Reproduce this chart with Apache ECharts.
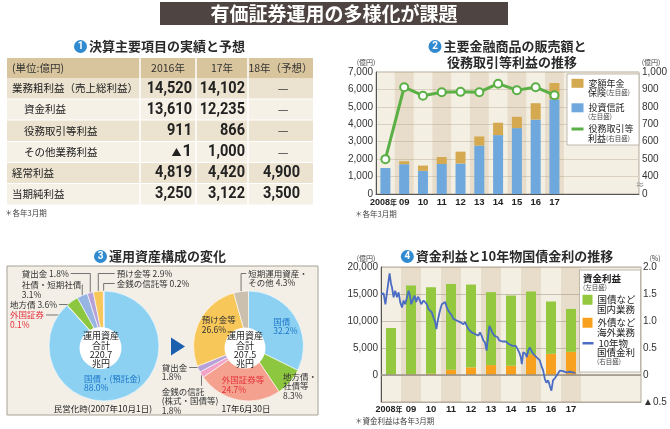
<!DOCTYPE html>
<html lang="ja"><head><meta charset="utf-8">
<title>有価証券運用の多様化が課題</title>
<script src="https://cdn.jsdelivr.net/npm/echarts@6/dist/echarts.min.js"></script>
<style>html,body{margin:0;padding:0;background:#fff;}#chart{width:670px;height:429px;}</style>
</head><body><div id="chart"></div>
<script>
// ---- Panel 1: table ----
const tableHead = ['(単位:億円)', '2016年', '17年', '18年（予想）'];
const tableItems = ['業務粗利益（売上総利益）', '資金利益', '役務取引等利益', 'その他業務利益', '経常利益', '当期純利益'];
const tableIndent = [0, 1, 1, 1, 0, 0];
const fy2016 = ['14,520', '13,610', '911', '▲1', '4,819', '3,250'];
const fy2017 = ['14,102', '12,235', '866', '1,000', '4,420', '3,122'];
const fy2018 = ['—', '—', '—', '—', '4,900', '3,500'];

// ---- Panel 2 ----
const salesYears = ['2008年', '09', '10', '11', '12', '13', '14', '15', '16', '17', ' ', '  ', '   ', '    '];
const investTrust = [1490, 1710, 1330, 1720, 1750, 2780, 3380, 3780, 4270, 5440];
const variableAnnuity = [0, 170, 300, 400, 680, 520, 710, 650, 940, 930];
const feeIncome = [500, 913, 864, 884, 886, 884, 933, 896, 913, 867];
const salesStripe = [0, 1, 0, 1, 0, 1, 0, 1, 0, 1, 0, 0, 0, 0];

// ---- Panel 3 ----
const assetNames2007 = ['国債・(預託金)', '外国証券', '地方債', '社債・短期社債', '貸出金', '預け金等', '金銭の信託等'];
const assetShare2007 = [88.0, 0.1, 3.6, 3.1, 1.8, 2.9, 0.2];
const assetNames2017 = ['国債', '地方債・\n社債等', '外国証券等', '金銭の信託\n(株式・国債等)', '貸出金', '預け金等', '短期運用資産・\nその他'];
const assetShare2017 = [32.2, 8.3, 24.7, 1.8, 1.8, 26.6, 4.3];

// ---- Panel 4 ----
const fundYears = ['2008年', '09', '10', '11', '12', '13', '14', '15', '16', '17', ' ', '  ', '   '];
const overseasBiz = [60, 150, 250, 980, 1410, 1840, 1720, 3830, 3930, 4290];
const domesticBiz = [8650, 16410, 16010, 15890, 15340, 13500, 13000, 11630, 9680, 7945];
const fundStripe = [0, 1, 0, 1, 0, 1, 0, 1, 0, 1, 0, 0, 0];
const jgb10y = [
[0.00,1.50],[0.05,1.47],[0.13,1.51],[0.22,1.31],[0.30,1.53],[0.38,1.75],[0.43,1.88],[0.50,1.69],[0.55,1.62],[0.63,1.44],
[0.71,1.56],[0.80,1.44],[0.88,1.53],[0.96,1.35],[1.05,1.25],[1.13,1.38],[1.21,1.31],[1.30,1.44],[1.38,1.56],[1.45,1.47],
[1.51,1.31],[1.58,1.38],[1.68,1.47],[1.76,1.35],[1.84,1.45],[1.91,1.41],[2.01,1.31],[2.13,1.38],[2.21,1.41],[2.29,1.31],
[2.38,1.22],[2.46,1.25],[2.54,1.16],[2.62,1.07],[2.71,0.98],[2.77,0.85],[2.84,1.01],[2.91,1.13],[2.97,1.22],[3.04,1.31],
[3.12,1.28],[3.21,1.35],[3.29,1.25],[3.37,1.19],[3.46,1.16],[3.54,1.10],[3.62,1.04],[3.70,1.07],[3.79,1.01],[3.87,1.04],
[3.95,0.98],[4.04,1.01],[4.12,0.94],[4.20,0.98],[4.29,0.91],[4.37,0.85],[4.45,0.82],[4.53,0.79],[4.62,0.81],[4.70,0.76],
[4.78,0.77],[4.87,0.73],[4.95,0.79],[5.03,0.73],[5.12,0.64],[5.20,0.60],[5.28,0.45],[5.37,0.76],[5.42,0.91],[5.50,0.85],
[5.56,0.79],[5.66,0.73],[5.75,0.76],[5.83,0.70],[5.91,0.64],[5.98,0.67],[6.06,0.62],[6.16,0.60],[6.23,0.62],[6.33,0.60],
[6.41,0.57],[6.50,0.59],[6.58,0.54],[6.66,0.51],[6.74,0.54],[6.83,0.48],[6.91,0.42],[6.99,0.33],[7.04,0.20],[7.11,0.42],
[7.16,0.45],[7.23,0.39],[7.29,0.33],[7.36,0.45],[7.44,0.51],[7.52,0.45],[7.61,0.39],[7.69,0.36],[7.77,0.33],[7.86,0.30],
[7.94,0.27],[8.02,0.17],[8.11,0.08],[8.19,-0.07],[8.27,-0.14],[8.36,-0.10],[8.44,-0.20],[8.52,-0.29],[8.60,-0.10],[8.69,-0.06],
[8.77,-0.04],[8.85,0.03],[8.94,0.08],[9.02,0.09],[9.10,0.07],[9.19,0.10],[9.27,0.05],[9.35,0.08],[9.44,0.06],[9.52,0.09],
[9.60,0.05],[9.68,0.02],[9.72,0.04]
];

// ---------------- styles / drawing ----------------
const FJP = '"Noto Sans CJK JP", sans-serif';
const FNUM = '"Liberation Sans", Arial, "Noto Sans CJK JP", sans-serif';
const G = [];
function T(x, y, text, st, z) {
  const s = Object.assign({text: text, fill: '#333', fontSize: 10, fontFamily: FJP, align: 'left', verticalAlign: 'middle'}, st || {});
  s.textAlign = s.align; s.textVerticalAlign = s.verticalAlign;
  const el = {type: 'text', x: x, y: y, z: z || 20, silent: true, style: s};
  if (st && st.scaleX) { el.scaleX = st.scaleX; }
  G.push(el);
}
function R(x, y, w, h, fill, stroke, lw, z) {
  G.push({type: 'rect', shape: {x: x, y: y, width: w, height: h}, z: z || 1, silent: true,
    style: {fill: fill, stroke: stroke || null, lineWidth: lw || 0}});
}
function L(x1, y1, x2, y2, stroke, lw, z) {
  G.push({type: 'line', shape: {x1: x1, y1: y1, x2: x2, y2: y2}, z: z || 2, silent: true, style: {stroke: stroke, lineWidth: lw}});
}
const numRich = {fill: '#fff', color: '#fff', backgroundColor: '#2f8ad0', borderRadius: 7, width: 13, height: 13, lineHeight: 13,
  align: 'center', fontSize: 10, fontWeight: 'bold', fontFamily: 'Roboto, sans-serif'};
function PT(x, y, n, t) {
  T(x, y, (n ? '{n|' + n + '}' : '') + '{t|' + t + '}', {align: 'center', rich: {
    n: numRich,
    t: {fill: '#2a2a2a', color: '#2a2a2a', fontSize: 13, fontWeight: 'bold', fontFamily: FJP, padding: [0, 0, 0, 2]}
  }});
}

// main title
R(160, 2, 348, 23, '#4e4441');
T(334, 13.5, '有価証券運用の多様化が課題', {fill: '#fff', fontSize: 19, fontWeight: 'bold', align: 'center'});

// ---- Panel 1 table ----
PT(159.5, 46.5, '1', '決算主要項目の実績と予想');
const colX = [7, 140, 196, 248, 313];
const rowTop = [58, 78, 99, 120, 141.5, 162.5, 183.5, 204.5];
R(7, 58, 306, 20, '#d9c59d');
for (let i = 0; i < tableItems.length; i++) {
  R(7, rowTop[i + 1], 306, rowTop[i + 2] - rowTop[i + 1], i % 2 === 0 ? '#ebe2cf' : '#f6f1e7');
}
for (let i = 2; i < rowTop.length - 1; i++) L(7, rowTop[i], 313, rowTop[i], '#fff', 1, 3);
for (let j = 1; j < 4; j++) L(colX[j], 58, colX[j], 204.5, '#fff', 1.5, 3);
T(12, 68, tableHead[0], {fontSize: 10.5, fill: '#333'});
T(168, 68, tableHead[1], {fontSize: 10.5, fill: '#333', align: 'center'});
T(222, 68, tableHead[2], {fontSize: 10.5, fill: '#333', align: 'center'});
T(280.5, 68, tableHead[3], {fontSize: 10.5, fill: '#333', align: 'center'});
const numStyle = {fontSize: 16.5, fontWeight: 'bold', fontFamily: 'Roboto, sans-serif', fill: '#222', align: 'right', scaleX: 0.88};
function cell(x, y, s) {
  if (s === '—') { T(x, y, s, {fontSize: 12, fill: '#333', align: 'center'}); return; }
  if (s.charAt(0) === '▲') {
    T(x, y, '{s|▲}{d|' + s.slice(1) + '}', {align: 'right', rich: {
      s: {fontSize: 10, fill: '#222', color: '#222', fontFamily: FJP, padding: [0, 1, 0, 0]},
      d: {fontSize: 16.5, fontWeight: 'bold', fill: '#222', color: '#222', fontFamily: 'Roboto, sans-serif'}}});
    return;
  }
  T(x, y, s, numStyle);
}
for (let i = 0; i < tableItems.length; i++) {
  const cy = (rowTop[i + 1] + rowTop[i + 2]) / 2;
  T(12 + tableIndent[i] * 12, cy, tableItems[i], {fontSize: 10.5, fill: '#222'});
  cell(192, cy, fy2016[i]);
  cell(245, cy, fy2017[i]);
  if (fy2018[i] === '—') cell(283, cy, fy2018[i]); else cell(300, cy, fy2018[i]);
}
T(5, 213, '＊各年3月期', {fontSize: 7.5, fill: '#444'});

// ---- Panel 2 texts ----
PT(507.5, 46.5, '2', '主要金融商品の販売額と');
PT(511, 62.5, '', '役務取引等利益の推移');
T(366, 62, '(億円)', {fontSize: 7, fill: '#444', align: 'center'});
T(651, 62, '(億円)', {fontSize: 7, fill: '#444', align: 'center'});
T(355, 214, '＊各年3月期', {fontSize: 7.5, fill: '#444'});
T(640, 185, '≈', {fontSize: 9, fill: '#888', align: 'center'}, 25);
R(567, 74, 72, 71, '#fff', '#b0a99c', 0.8, 15);
T(588, 93, '{a|保険}{b|(左目盛)}', {rich: {a: {fontSize: 9, fill: '#222', color: '#222', fontFamily: FJP}, b: {fontSize: 6.5, fill: '#444', color: '#444', fontFamily: FJP}}}, 25);
T(588, 117, '(左目盛)', {fontSize: 6.5, fill: '#444'}, 25);
T(588, 139, '{a|利益}{b|(右目盛)}', {rich: {a: {fontSize: 9, fill: '#222', color: '#222', fontFamily: FJP}, b: {fontSize: 6.5, fill: '#444', color: '#444', fontFamily: FJP}}}, 25);

// ---- Panel 3 ----
PT(160, 256.5, '3', '運用資産構成の変化');
R(7, 266, 311, 149, '#f3efe6', '#a8a296', 1, 0);
G.push({type: 'polygon', shape: {points: [[171, 337.5], [185, 346.5], [171, 355.5]]}, z: 3, silent: true, style: {fill: '#1c5fae'}});
G.push({type: 'circle', shape: {cx: 100.5, cy: 348, r: 21}, z: 10, silent: true, style: {fill: '#fff'}});
G.push({type: 'circle', shape: {cx: 245, cy: 348, r: 20.5}, z: 10, silent: true, style: {fill: '#fff'}});
T(101, 349.7, '運用資産\n合計\n220.7\n兆円', {fontSize: 9, lineHeight: 9.2, fill: '#222', align: 'center'}, 12);
T(245, 349.7, '運用資産\n合計\n207.5\n兆円', {fontSize: 9, lineHeight: 9.2, fill: '#222', align: 'center'}, 12);
T(103, 409, '民営化時(2007年10月1日)', {fontSize: 8.5, fill: '#222', align: 'center'});
T(246, 409, '17年6月30日', {fontSize: 8.5, fill: '#222', align: 'center'});

// ---- Panel 4 texts ----
PT(507, 256.5, '4', '資金利益と10年物国債金利の推移');
T(366, 258, '(億円)', {fontSize: 7, fill: '#444', align: 'center'});
T(655, 258, '(%)', {fontSize: 7, fill: '#444', align: 'center'});
T(355, 421.5, '＊資金利益は各年3月期', {fontSize: 7.5, fill: '#444'});
R(579.5, 270, 61, 102, '#fff', '#b0a99c', 0.8, 15);
T(583, 278.5, '資金利益', {fontSize: 9.5, fontWeight: 'bold', fill: '#222'}, 25);
T(583, 287.5, '(左目盛)', {fontSize: 6.5, fill: '#444'}, 25);
T(597, 309, '国内業務', {fontSize: 9.5, fill: '#222'}, 25);
T(597, 332, '海外業務', {fontSize: 9.5, fill: '#222'}, 25);
T(597, 352.5, '国債金利', {fontSize: 9.5, fill: '#222'}, 25);
T(597, 362, '(右目盛)', {fontSize: 6.5, fill: '#444'}, 25);

// pie label placement (left x, first-line center y)
const pieLab2007 = [
  {x: 84, y: 378.5}, {x: 10, y: 315, line: 'r'}, {x: 10, y: 304.5, line: 'r'}, {x: 21.7, y: 285, line: 'r'},
  {x: 21.7, y: 273.5, line: 'r'}, {x: 116.7, y: 273.5, line: 'l'}, {x: 116.7, y: 283.5, line: 'l'}
];
const pieLab2017 = [
  {x: 273.3, y: 321.7}, {x: 283, y: 376.7}, {x: 221.7, y: 380}, {x: 161.7, y: 391.7, line: 'u'},
  {x: 161.7, y: 367.5, line: 'r'}, {x: 201.7, y: 320}, {x: 248.3, y: 273.5, line: 'l'}
];
const LH = 9.5;
function makeLayout(spec) {
  return function (p) {
    const s = spec[p.dataIndex];
    const res = {x: s.x, y: s.y - LH / 2, align: 'left', verticalAlign: 'top'};
    const a = p.labelLinePoints && p.labelLinePoints[0];
    const w = p.labelRect ? p.labelRect.width : 30;
    if (s.line && a) {
      if (s.line === 'r') res.labelLinePoints = [a, [a[0], s.y], [s.x + w + 2, s.y]];
      else if (s.line === 'l') res.labelLinePoints = [a, [a[0], s.y], [s.x - 2, s.y]];
      else res.labelLinePoints = [a, [a[0], s.y - 6], [a[0], s.y - 6]];
    }
    return res;
  };
}
const pal2007 = ['#8dd1f2', '#f39a88', '#8dc63f', '#97b5e2', '#b6a2d8', '#f8c75a', '#f2a3c6'];
const lab2007 = ['#1a76c8', '#e5303c', '#333', '#333', '#333', '#333', '#333'];
const sep2007 = ['\n', '\n', ' ', '\n', ' ', ' ', ' '];
const pal2017 = ['#8dd1f2', '#8dc63f', '#f4a28f', '#f2a3c6', '#b6a2d8', '#f8c75a', '#cbbfae'];
const lab2017 = ['#1a76c8', '#333', '#e5303c', '#333', '#333', '#333', '#333'];
const sep2017 = ['\n', '\n', '\n', '\n', '\n', '\n', ' '];
function pieSeries(names, shares, pal, labc, sep, spec, center) {
  return {
    type: 'pie', center: center, radius: [0, 55], startAngle: 90, clockwise: true, avoidLabelOverlap: false,
    animation: false, emphasis: {disabled: true}, z: 2,
    itemStyle: {borderColor: '#fff', borderWidth: 0.6},
    label: {show: true, position: 'outside', fontSize: 8.5, lineHeight: LH, fontFamily: FJP, color: '#333',
      formatter: function (p) { return names[p.dataIndex] + sep[p.dataIndex] + shares[p.dataIndex].toFixed(1) + '%'; }},
    labelLine: {show: true, length: 4, length2: 4, lineStyle: {color: '#555', width: 0.8}},
    labelLayout: makeLayout(spec),
    data: names.map(function (n, i) {
      return {name: n, value: shares[i], itemStyle: {color: pal[i]}, label: {color: labc[i]}, labelLine: {show: !!spec[i].line}};
    })
  };
}

// legends
function lg(name, left, top, w, h, text, fs) {
  return {data: [{name: name, icon: 'rect'}], left: left, top: top, orient: 'horizontal', itemWidth: w, itemHeight: h,
    padding: 0, itemGap: 0, selectedMode: false, formatter: function () { return text; }, z: 30,
    itemStyle: {borderWidth: 0}, lineStyle: {width: 0},
    textStyle: {fontSize: fs, lineHeight: fs + 1, color: '#222', fontFamily: FJP}};
}

const axisNum = {fontFamily: FNUM, fontSize: 10, color: '#333'};
const catLabel = {
  interval: 0, fontFamily: FNUM, fontSize: 9.5, color: '#222', fontWeight: 'bold',
  formatter: function (v) { return v.indexOf('年') > 0 ? '{a|' + v.replace('年', '') + '}{b|年}' : v; },
  rich: {a: {fontFamily: FNUM, fontSize: 9, fontWeight: 'bold', color: '#222'},
    b: {fontFamily: FJP, fontSize: 7, fontWeight: 'bold', color: '#222', padding: [0, 4, 0, 0]}}
};
const option = {
  animation: false,
  backgroundColor: '#fff',
  graphic: {elements: G},
  legend: [
    lg('変額年金保険', 571.5, 78.3, 12, 9, '変額年金', 9),
    lg('投資信託', 571.5, 102.8, 12, 9, '投資信託', 9),
    lg('役務取引等利益', 571.5, 124, 12, 3, '役務取引等', 9),
    lg('国債など国内業務', 582.5, 294.5, 10, 10, '国債など', 9.5),
    lg('外債など海外業務', 582.5, 317.5, 10, 10, '外債など', 9.5),
    lg('10年物国債金利', 582.5, 338, 11, 2.5, '10年物', 9.5)
  ],
  grid: [
    {left: 376, top: 72, width: 267, height: 122, show: true, backgroundColor: '#f4efe3', borderColor: '#b3ab9d', borderWidth: 1},
    {left: 381, top: 267, width: 260, height: 135, show: true, backgroundColor: '#f4efe3', borderColor: '#b3ab9d', borderWidth: 1}
  ],
  xAxis: [
    {type: 'category', gridIndex: 0, data: salesYears, axisTick: {show: false},
      axisLine: {lineStyle: {color: '#555'}}, axisLabel: Object.assign({margin: 4}, catLabel)},
    {type: 'category', gridIndex: 0, data: salesYears, show: false},
    {type: 'category', gridIndex: 1, data: fundYears, axisTick: {show: false},
      axisLine: {onZero: false, lineStyle: {color: '#b3ab9d'}}, axisLabel: Object.assign({margin: 3}, catLabel)},
    {type: 'category', gridIndex: 1, data: fundYears, show: false},
    {type: 'value', gridIndex: 1, min: 0, max: 13, show: false}
  ],
  yAxis: [
    {type: 'value', gridIndex: 0, min: 0, max: 7000, interval: 1000, axisTick: {show: false},
      axisLine: {show: true, lineStyle: {color: '#555'}}, axisLabel: Object.assign({margin: 3}, axisNum),
      splitLine: {lineStyle: {color: '#d9d0bf'}}},
    {type: 'value', gridIndex: 0, position: 'right', min: 300, max: 1000, interval: 100, axisTick: {show: false},
      axisLine: {show: false}, splitLine: {show: false},
      axisLabel: Object.assign({margin: 3, formatter: function (v) { return v === 300 ? '0' : (v >= 1000 ? '1,000' : String(v)); }}, axisNum)},
    {type: 'value', gridIndex: 1, min: -5000, max: 20000, interval: 5000, axisTick: {show: false},
      axisLine: {show: true, lineStyle: {color: '#555'}}, splitLine: {lineStyle: {color: '#c8c0b2'}},
      axisLabel: Object.assign({margin: 3, formatter: function (v) { return v < 0 ? '' : echarts.format.addCommas(v); }}, axisNum)},
    {type: 'value', gridIndex: 1, position: 'right', min: -0.5, max: 2, interval: 0.5, axisTick: {show: false},
      axisLine: {show: false}, splitLine: {show: false},
      axisLabel: Object.assign({margin: 2, formatter: function (v) { return v < 0 ? '▲0.5' : (v === 0 ? '0' : v.toFixed(1)); }}, axisNum)},
    {type: 'value', gridIndex: 0, min: 0, max: 1, show: false},
    {type: 'value', gridIndex: 1, min: 0, max: 1, show: false}
  ],
  series: [
    {name: 'stripe2', type: 'bar', xAxisIndex: 1, yAxisIndex: 4, data: salesStripe, barWidth: '100%', silent: true, z: 1,
      itemStyle: {color: 'rgba(165,135,85,0.17)'}},
    {name: '投資信託', type: 'bar', xAxisIndex: 0, yAxisIndex: 0, stack: 'sales', barWidth: 10, data: investTrust,
      itemStyle: {color: '#6fa8dd'}, z: 3},
    {name: '変額年金保険', type: 'bar', xAxisIndex: 0, yAxisIndex: 0, stack: 'sales', barWidth: 10, data: variableAnnuity,
      itemStyle: {color: '#d4a94f'}, z: 3},
    {name: '役務取引等利益', type: 'line', xAxisIndex: 0, yAxisIndex: 1, data: feeIncome, symbol: 'emptyCircle', symbolSize: 8,
      lineStyle: {color: '#5aaf45', width: 3}, itemStyle: {color: '#5aaf45', borderWidth: 2}, z: 5},
    {name: 'stripe4', type: 'bar', xAxisIndex: 3, yAxisIndex: 5, data: fundStripe, barWidth: '100%', silent: true, z: 1,
      itemStyle: {color: 'rgba(165,135,85,0.17)'}},
    {name: '外債など海外業務', type: 'bar', xAxisIndex: 2, yAxisIndex: 2, stack: 'fund', barWidth: 10, data: overseasBiz,
      itemStyle: {color: '#f8a11e'}, z: 3,
      markLine: {silent: true, symbol: 'none', label: {show: false}, data: [{yAxis: 0}],
        lineStyle: {color: '#9a9388', width: 1.5, type: 'solid'}}},
    {name: '国債など国内業務', type: 'bar', xAxisIndex: 2, yAxisIndex: 2, stack: 'fund', barWidth: 10, data: domesticBiz,
      itemStyle: {color: '#94c83f'}, z: 3},
    {name: '10年物国債金利', type: 'line', xAxisIndex: 4, yAxisIndex: 3, data: jgb10y, showSymbol: false, symbol: 'none',
      lineStyle: {color: '#4a6cc2', width: 1.8}, itemStyle: {color: '#4a6cc2'}, z: 5},
    pieSeries(assetNames2007, assetShare2007, pal2007, lab2007, sep2007, pieLab2007, [104, 346]),
    pieSeries(assetNames2017, assetShare2017, pal2017, lab2017, sep2017, pieLab2017, [248.5, 346])
  ]
};
const chart = echarts.init(document.getElementById('chart'), null, {renderer: 'canvas'});
chart.setOption(option);
</script>
</body></html>
